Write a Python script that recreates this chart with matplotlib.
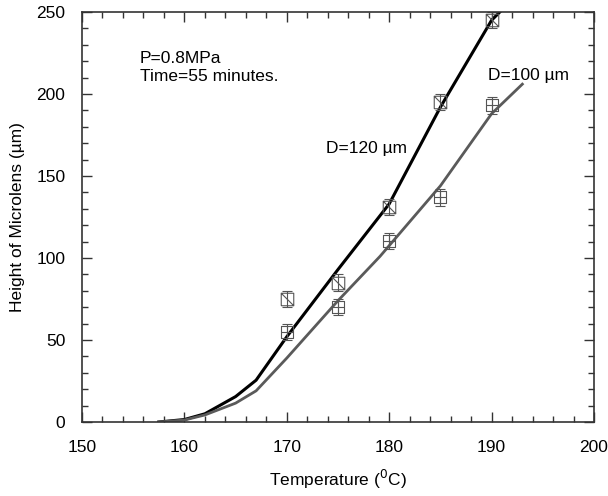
import numpy as np
import matplotlib
matplotlib.use("Agg")
import matplotlib.pyplot as plt
from matplotlib.path import Path
from matplotlib.ticker import MultipleLocator

plt.rcParams['font.family'] = ['Liberation Sans', 'DejaVu Sans']

# model curves
temp_120 = [157.5, 160, 162, 165, 167, 170, 175, 180, 185, 190, 190.8]
height_120 = [0, 1.5, 5, 15.5, 25.5, 52, 93, 133, 192, 245, 250]
temp_100 = [157.5, 160, 162, 165, 167, 170, 175, 179.1, 185, 190, 193]
height_100 = [0, 1.2, 4.3, 11.5, 19, 39, 74, 101, 144, 188, 206]

# measured points
meas_temp = [170, 175, 180, 185, 190]
meas_120 = [75, 85, 131, 195, 245]
meas_100 = [55, 70, 110.5, 137, 193]
err = [5, 5, 5, 5, 5]

# square with a diagonal, square with a cross
sq_diag = Path([(-1, -1), (1, -1), (1, 1), (-1, 1), (-1, -1), (-1, 1), (1, -1)],
               [1, 2, 2, 2, 2, 1, 2])
sq_cross = Path([(-1, -1), (1, -1), (1, 1), (-1, 1), (-1, -1),
                 (0, -1), (0, 1), (-1, 0), (1, 0)],
                [1, 2, 2, 2, 2, 1, 2, 1, 2])

fs = 12.5

fig = plt.figure(figsize=(6.08, 4.96), dpi=100)
ax = fig.add_axes([0.1349, 0.1492, 0.8421, 0.8266])

ax.plot(temp_120, height_120, color='black', lw=2.2, solid_joinstyle='round')
ax.plot(temp_100, height_100, color='#5a5a5a', lw=2.0, solid_joinstyle='round')

ax.errorbar(meas_temp, meas_120, yerr=err, fmt='none', ecolor='#555555',
            elinewidth=0.8, capsize=3.5, capthick=0.8)
ax.errorbar(meas_temp, meas_100, yerr=err, fmt='none', ecolor='#555555',
            elinewidth=0.8, capsize=3.5, capthick=0.8)
ax.plot(meas_temp, meas_120, ls='none', marker=sq_diag, ms=9, mfc='none',
        mec='#555555', mew=0.8)
ax.plot(meas_temp, meas_100, ls='none', marker=sq_cross, ms=9, mfc='none',
        mec='#555555', mew=0.8)

ax.set_xlim(150, 200)
ax.set_ylim(0, 250)
ax.xaxis.set_major_locator(MultipleLocator(10))
ax.xaxis.set_minor_locator(MultipleLocator(2))
ax.yaxis.set_major_locator(MultipleLocator(50))
ax.yaxis.set_minor_locator(MultipleLocator(10))
ax.tick_params(which='both', direction='in', top=True, right=True,
               labelsize=fs, width=1, color='#333333')
ax.tick_params(which='major', length=7)
ax.tick_params(axis='x', which='major', pad=13)
ax.tick_params(axis='y', which='major', pad=12)
ax.tick_params(which='minor', length=4)
for s in ax.spines.values():
    s.set_color('#333333')
    s.set_linewidth(1.2)

ax.set_xlabel('Temperature ($^0$C)', fontsize=fs, labelpad=9)
ax.set_ylabel('Height of Microlens (\u00b5m)', fontsize=fs, labelpad=8)

ax.text(0.113, 0.865, 'P=0.8MPa\nTime=55 minutes.', transform=ax.transAxes,
        fontsize=fs, va='center', ha='left', linespacing=1.25)
ax.text(177.8, 167, 'D=120 \u00b5m', fontsize=fs, ha='center', va='center')
ax.text(193.6, 211.5, 'D=100 \u00b5m', fontsize=fs, ha='center', va='center')

fig.savefig('out.png', dpi=100)
